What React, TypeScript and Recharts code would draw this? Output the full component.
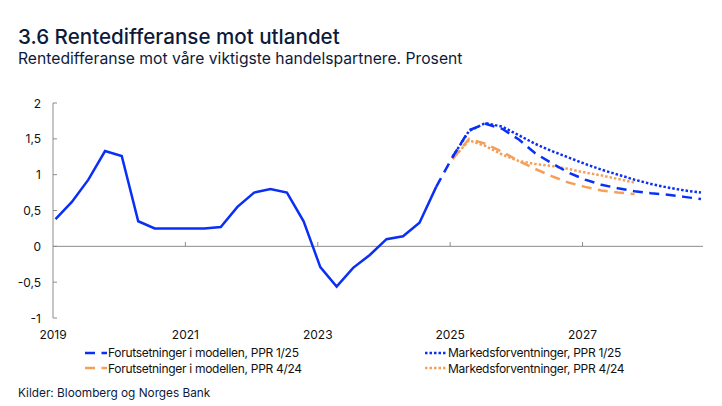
import { LineChart, Line, XAxis, YAxis, ReferenceLine } from 'recharts';

const BLUE = '#0a2ff5';
const ORANGE = '#f5a05a';
const INK = '#0e1a3a';
const AXIS = '#8c8c8c';
const FONT = 'Inter, "Noto Sans", sans-serif';

const firstYear = 2019;
const quarterCount = 40; // 2019K1–2028K4
const yTicks = [-1, -0.5, 0, 0.5, 1, 1.5, 2];
const xTicks = [2019, 2021, 2023, 2025, 2027];

// 2019K1–2024K4
const historical = [
  0.38, 0.62, 0.93, 1.33, 1.26, 0.35, 0.25, 0.25, 0.25, 0.25, 0.27, 0.55,
  0.75, 0.8, 0.75, 0.35, -0.29, -0.56, -0.3, -0.12, 0.1, 0.14, 0.33, 0.83,
];
// 2024K4–2028K4
const modelPPR125 = [0.83, 1.25, 1.62, 1.71, 1.64, 1.49, 1.3, 1.16, 1.03, 0.93, 0.86, 0.81, 0.77, 0.74, 0.72, 0.69, 0.66];
// 2025K1–2028K4
const marketPPR125 = [1.25, 1.61, 1.72, 1.67, 1.55, 1.43, 1.33, 1.24, 1.15, 1.07, 1.0, 0.93, 0.87, 0.82, 0.78, 0.75];
// 2025K1–2027K4
const modelPPR424 = [1.22, 1.5, 1.43, 1.32, 1.19, 1.08, 0.98, 0.89, 0.83, 0.78, 0.75, 0.73];
const marketPPR424 = [1.22, 1.48, 1.4, 1.28, 1.19, 1.15, 1.12, 1.08, 1.03, 0.99, 0.94, 0.89];

const legendItems = [
  { label: 'Forutsetninger i modellen, PPR 1/25', color: BLUE, dash: '10 6.5' },
  { label: 'Markedsforventninger, PPR 1/25', color: BLUE, dash: '2.5 2' },
  { label: 'Forutsetninger i modellen, PPR 4/24', color: ORANGE, dash: '10 6.5' },
  { label: 'Markedsforventninger, PPR 4/24', color: ORANGE, dash: '2.5 2' },
];

// quarterly points dated mid first month of the quarter
const quarterX = (i: number) => {
  const y = firstYear + Math.floor(i / 4);
  const m = (i % 4) * 3;
  return y + (Date.UTC(y, m, 15) - Date.UTC(y, 0, 1)) / (365 * 864e5);
};

const data = Array.from({ length: quarterCount }, (_, i) => ({
  x: quarterX(i),
  hist: historical[i],
  m125: i >= 23 ? modelPPR125[i - 23] : undefined,
  k125: i >= 24 ? marketPPR125[i - 24] : undefined,
  m424: i >= 24 ? modelPPR424[i - 24] : undefined,
  k424: i >= 24 ? marketPPR424[i - 24] : undefined,
}));

const fmt = (v: number) => String(v).replace('.', ',');

const YTick = ({ x, y, payload }: any) => (
  <g>
    <line x1={x + 12} x2={x + 16} y1={y} y2={y} stroke={AXIS} />
    <text x={x} y={y} dy={4.5} textAnchor="end" fontSize={12} fontFamily={FONT} fill="#111">
      {fmt(payload.value)}
    </text>
  </g>
);

export default function App() {
  return (
    <div style={{ position: 'absolute', left: 0, top: 0, width: 722, height: 406, background: '#fff', fontFamily: FONT, color: INK }}>
      <div style={{ position: 'absolute', left: 18, top: 24, fontSize: 20.6, fontWeight: 500, whiteSpace: 'nowrap' }}>
        3.6 Rentedifferanse mot utlandet
      </div>
      <div style={{ position: 'absolute', left: 18, top: 49, fontSize: 15.7, whiteSpace: 'nowrap' }}>
        Rentedifferanse mot våre viktigste handelspartnere. Prosent
      </div>

      <div style={{ position: 'absolute', left: 0, top: 0 }}>
        <LineChart width={722} height={406} data={data} margin={{ top: 103, right: 19, left: 0, bottom: 58 }}>
          <XAxis
            dataKey="x"
            type="number"
            domain={[2019, 2028.82]}
            ticks={xTicks}
            axisLine={false}
            tickLine={false}
            tickSize={0}
            tickMargin={12}
            height={30}
            tick={{ fontSize: 12, fill: '#111', fontFamily: FONT }}
          />
          <YAxis
            type="number"
            domain={[-1, 2]}
            ticks={yTicks}
            width={53}
            tickSize={0}
            tickMargin={12}
            axisLine={{ stroke: AXIS }}
            tickLine={false}
            tick={<YTick />}
          />
          <ReferenceLine y={0} stroke={AXIS} strokeWidth={1} />
          {xTicks.slice(1).map(t => (
            <ReferenceLine key={t} segment={[{ x: t, y: 0 }, { x: t, y: 0.06 }]} stroke={AXIS} strokeWidth={1} />
          ))}
          <Line dataKey="hist" stroke={BLUE} strokeWidth={2.5} dot={false} isAnimationActive={false} />
          <Line dataKey="m424" stroke={ORANGE} strokeWidth={2.5} strokeDasharray="10 6.5" dot={false} isAnimationActive={false} />
          <Line dataKey="k424" stroke={ORANGE} strokeWidth={2.5} strokeDasharray="2.5 2" dot={false} isAnimationActive={false} />
          <Line dataKey="m125" stroke={BLUE} strokeWidth={2.5} strokeDasharray="10 6.5" dot={false} isAnimationActive={false} />
          <Line dataKey="k125" stroke={BLUE} strokeWidth={2.5} strokeDasharray="2.5 2" dot={false} isAnimationActive={false} />
        </LineChart>
      </div>

      <div style={{ position: 'absolute', left: 85, top: 345, display: 'grid', gridTemplateColumns: '340px auto', rowGap: 0, fontSize: 12, color: '#111' }}>
        {legendItems.map(it => (
          <div key={it.label} style={{ display: 'flex', alignItems: 'center', height: 15.5, whiteSpace: 'nowrap' }}>
            <svg width={22} height={4} style={{ marginRight: 1 }}>
              <line x1={0} x2={22} y1={2} y2={2} stroke={it.color} strokeWidth={2.5} strokeDasharray={it.dash} />
            </svg>
            <span style={{ letterSpacing: -0.3 }}>{it.label}</span>
          </div>
        ))}
      </div>

      <div style={{ position: 'absolute', left: 18, top: 386, fontSize: 11.8, whiteSpace: 'nowrap' }}>
        Kilder: Bloomberg og Norges Bank
      </div>
    </div>
  );
}
